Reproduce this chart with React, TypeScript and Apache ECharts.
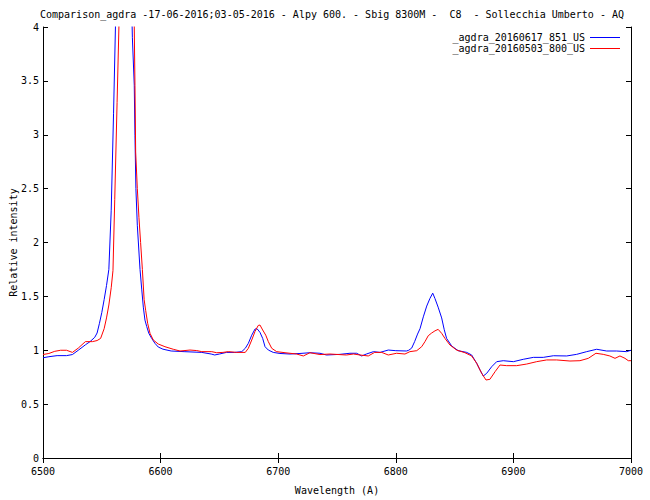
import React, { useEffect, useRef } from "react";
import * as echarts from "echarts";

const titleText =
  "Comparison_agdra -17-06-2016;03-05-2016 - Alpy 600. - Sbig 8300M -  C8  - Sollecchia Umberto - AQ";
const seriesNames = ["_agdra_20160617_851_US", "_agdra_20160503_800_US"];
const seriesColors = ["#0000ff", "#ff0000"];

const blueWl = [
  6500, 6505, 6512, 6520, 6525, 6530, 6536, 6540, 6544, 6546, 6548, 6550, 6552, 6554, 6556, 6558, 6560, 6562, 6565,
  6568, 6571, 6574, 6576, 6577.6, 6578.2, 6579, 6580.2, 6582.5, 6584, 6585.3, 6586.7, 6588.2, 6590, 6592.4, 6595.2,
  6598, 6602, 6609, 6620, 6635, 6643, 6646, 6650, 6656, 6663, 6669, 6672, 6674.6, 6677.5, 6680.3, 6682, 6684.5,
  6686.8, 6688.8, 6691.6, 6695.8, 6701.5, 6710, 6718.5, 6727, 6735.5, 6741, 6752.5, 6761, 6766.7, 6771, 6775, 6781,
  6786.6, 6793.6, 6800, 6809, 6811, 6813.5, 6816, 6818.5, 6820.6, 6823.4, 6826.3, 6829, 6831.4, 6833.3, 6836, 6839,
  6841.2, 6843.2, 6847.5, 6853, 6860.3, 6864.5, 6868.8, 6871.6, 6874.4, 6877.3, 6881.5, 6885.8, 6891.4, 6900,
  6908.4, 6917, 6925.4, 6934, 6945.3, 6953.8, 6962.3, 6970.8, 6979.3, 6987.8, 6996.3, 7000,
];
const blueVal = [
  0.93, 0.94, 0.95, 0.95, 0.96, 1.0, 1.05, 1.08, 1.12, 1.16, 1.25, 1.35, 1.47, 1.6, 1.75, 2.3, 3.2, 4.2, 5.6, 6.5,
  6.2, 4.9, 3.9, 3.46, 2.99, 2.5, 2.16, 1.75, 1.56, 1.4, 1.28, 1.22, 1.157, 1.11, 1.064, 1.03, 1.01, 0.993, 0.987,
  0.98, 0.965, 0.956, 0.965, 0.98, 0.98, 0.987, 1.018, 1.064, 1.14, 1.197, 1.2, 1.166, 1.11, 1.033, 1.002, 0.98,
  0.97, 0.965, 0.97, 0.977, 0.972, 0.956, 0.962, 0.972, 0.972, 0.947, 0.965, 0.987, 0.98, 1.002, 0.996, 0.993, 1.0,
  1.02, 1.08, 1.15, 1.2, 1.31, 1.41, 1.48, 1.53, 1.48, 1.4, 1.3, 1.19, 1.11, 1.04, 0.996, 0.98, 0.956, 0.879, 0.817,
  0.761, 0.786, 0.847, 0.894, 0.903, 0.894, 0.916, 0.934, 0.934, 0.949, 0.947, 0.962, 0.987, 1.009, 0.993, 0.993,
  0.987, 1.0,
];

const redWl = [
  6500, 6505, 6510, 6515, 6520, 6525, 6530, 6536, 6542, 6546, 6549, 6552, 6554, 6556, 6558, 6559.5, 6561, 6563, 6565,
  6568, 6571, 6574, 6576, 6577.6, 6578.2, 6578.8, 6580.2, 6581.6, 6583, 6584.5, 6586, 6587.3, 6589, 6591, 6593.8,
  6598, 6603.7, 6610.8, 6616.5, 6625, 6630.7, 6635, 6643.5, 6647.7, 6653, 6657.6, 6664.7, 6672, 6674.6, 6677.5,
  6680.3, 6683, 6684.5, 6686.8, 6689.4, 6691.6, 6694.5, 6698.7, 6705.8, 6715.7, 6721.4, 6727, 6735.5, 6744, 6758,
  6764, 6769.6, 6776.6, 6782, 6788, 6793.6, 6800.7, 6807.8, 6812, 6817.8, 6822, 6824.8, 6827.6, 6830.5, 6833.3,
  6836, 6839, 6841.8, 6846, 6851.7, 6858.8, 6864.5, 6868.8, 6873, 6876.7, 6880, 6884.4, 6888.6, 6894.3, 6902.8,
  6911.3, 6919.8, 6928.3, 6936.8, 6948.1, 6956.6, 6963.7, 6970.2, 6976.4, 6982, 6986.4, 6990.6, 6994.9, 6997.7, 7000,
];
const redVal = [
  0.96, 0.97, 0.99, 1.0, 1.0, 0.98, 1.02, 1.08, 1.08, 1.09, 1.11, 1.2, 1.3, 1.42, 1.58, 1.74, 2.4, 3.3, 4.2, 5.6,
  6.4, 5.8, 4.8, 4.0, 3.46, 2.84, 2.5, 2.23, 2.0, 1.75, 1.47, 1.37, 1.25, 1.157, 1.095, 1.058, 1.033, 1.009, 0.993,
  1.002, 0.997, 0.987, 0.987, 0.977, 0.98, 0.987, 0.98, 0.98, 1.018, 1.095, 1.175, 1.23, 1.234, 1.188, 1.14, 1.08,
  1.018, 0.987, 0.977, 0.965, 0.947, 0.977, 0.96, 0.965, 0.956, 0.965, 0.956, 0.947, 0.98, 0.98, 0.956, 0.972, 0.965,
  0.987, 0.996, 1.033, 1.08, 1.135, 1.16, 1.18, 1.194, 1.157, 1.11, 1.049, 1.002, 0.977, 0.947, 0.879, 0.786, 0.724,
  0.73, 0.801, 0.863, 0.857, 0.857, 0.872, 0.894, 0.91, 0.91, 0.9, 0.903, 0.925, 0.972, 0.962, 0.947, 0.925, 0.947,
  0.925, 0.903, 0.903,
];

const FONT = "DejaVu Sans Mono";

export default function App() {
  const ref = useRef<HTMLDivElement>(null);
  useEffect(() => {
    if (!ref.current) return;
    const chart = echarts.init(ref.current, null, { renderer: "svg" });
    const pair = (w: number[], v: number[]) => w.map((x, i) => [x, v[i]]);
    const tickStyle = { inside: true, length: 5, lineStyle: { color: "#000", width: 1 } };
    const lineStyle = { lineStyle: { color: "#000", width: 1 } };
    const plain = (v: number) => String(v);
    chart.setOption({
      animation: false,
      backgroundColor: "#fff",
      textStyle: { fontFamily: FONT, color: "#000" },
      title: {
        text: titleText,
        left: 40,
        top: 9,
        padding: 0,
        textStyle: { fontFamily: FONT, fontSize: 10, fontWeight: "normal", color: "#000" },
      },
      legend: {
        orient: "vertical",
        right: 30,
        top: 32,
        padding: 0,
        align: "right",
        itemGap: 0,
        itemWidth: 30,
        itemHeight: 1,
        icon: "rect",
        textStyle: { fontFamily: FONT, fontSize: 10, color: "#000", lineHeight: 11 },
        data: seriesNames,
      },
      grid: { left: 43, right: 19, top: 27, bottom: 42, containLabel: false, outerBoundsMode: "none" },
      xAxis: [
        {
          type: "value",
          min: 6500,
          max: 7000,
          interval: 100,
          name: "Wavelength (A)",
          nameLocation: "middle",
          nameGap: 27,
          nameMoveOverlap: false,
          nameTextStyle: { fontFamily: FONT, fontSize: 10, color: "#000" },
          axisLine: { show: true, ...lineStyle },
          axisTick: tickStyle,
          axisLabel: { fontFamily: FONT, fontSize: 10, color: "#000", margin: 8, formatter: plain },
          splitLine: { show: false },
        },
        {
          type: "value",
          position: "top",
          min: 6500,
          max: 7000,
          interval: 100,
          axisLine: { show: true, ...lineStyle },
          axisTick: tickStyle,
          axisLabel: { show: false },
          splitLine: { show: false },
        },
      ],
      yAxis: [
        {
          type: "value",
          min: 0,
          max: 4,
          interval: 0.5,
          name: "Relative intensity",
          nameLocation: "middle",
          nameGap: 25,
          nameMoveOverlap: false,
          nameTextStyle: { fontFamily: FONT, fontSize: 10, color: "#000" },
          axisLine: { show: true, ...lineStyle },
          axisTick: tickStyle,
          axisLabel: { fontFamily: FONT, fontSize: 10, color: "#000", margin: 4, formatter: plain },
          splitLine: { show: false },
        },
        {
          type: "value",
          position: "right",
          min: 0,
          max: 4,
          interval: 0.5,
          axisLine: { show: true, ...lineStyle },
          axisTick: tickStyle,
          axisLabel: { show: false },
          splitLine: { show: false },
        },
      ],
      series: [
        {
          name: seriesNames[0],
          type: "line",
          xAxisIndex: 0,
          yAxisIndex: 0,
          data: pair(blueWl, blueVal),
          showSymbol: false,
          symbol: "none",
          clip: true,
          color: seriesColors[0],
          lineStyle: { color: seriesColors[0], width: 1 },
        },
        {
          name: seriesNames[1],
          type: "line",
          xAxisIndex: 0,
          yAxisIndex: 0,
          data: pair(redWl, redVal),
          showSymbol: false,
          symbol: "none",
          clip: true,
          color: seriesColors[1],
          lineStyle: { color: seriesColors[1], width: 1 },
        },
      ],
    });
    return () => chart.dispose();
  }, []);
  return (
    <div
      ref={ref}
      style={{ position: "fixed", left: 0, top: 0, width: 650, height: 500, background: "#fff" }}
    />
  );
}
